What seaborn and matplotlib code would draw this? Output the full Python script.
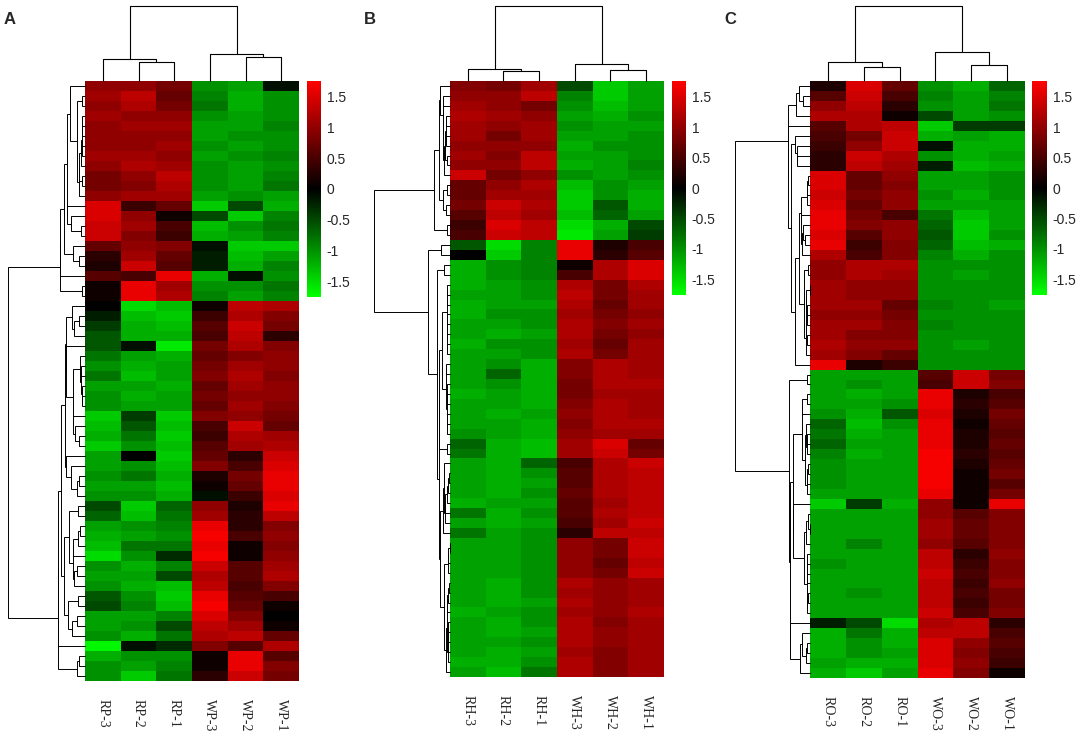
import numpy as np
import pandas as pd
import matplotlib
matplotlib.use('Agg')
import matplotlib.pyplot as plt
import seaborn as sns
from matplotlib.colors import LinearSegmentedColormap

# ---- panel A (rows top to bottom, as displayed) ----
rp3 = [1.0, 1.1, 1.0, 1.1, 1.0, 1.0, 1.0, 1.1, 1.0, 0.8,
       0.8, 1.0, 1.5, 1.5, 1.4, 1.4, 0.7, 0.3, 0.2, 0.6,
       0.1, 0.1, 0.0, -0.2, -0.4, -0.6, -0.6, -0.8, -1.0, -0.8,
       -1.1, -1.0, -1.0, -1.4, -1.3, -1.2, -1.4, -1.1, -1.1, -1.0,
       -1.1, -1.0, -0.5, -0.7, -1.1, -1.2, -1.3, -1.5, -1.0, -1.1,
       -1.0, -0.6, -0.5, -1.1, -1.1, -1.0, -1.7, -1.2, -1.0, -1.0]
rp2 = [1.0, 1.3, 1.2, 1.0, 1.1, 1.0, 1.0, 1.1, 1.2, 1.0,
       0.9, 1.1, 0.4, 1.0, 1.1, 0.9, 1.0, 1.1, 1.4, 0.5,
       1.6, 1.6, -1.5, -1.3, -1.2, -1.2, -0.1, -1.1, -1.2, -1.3,
       -1.1, -1.2, -1.1, -0.4, -0.6, -0.8, -1.0, 0.0, -1.0, -0.8,
       -1.1, -1.0, -1.4, -1.3, -1.0, -1.1, -0.8, -1.0, -1.2, -1.1,
       -1.2, -1.0, -0.9, -1.1, -1.0, -1.2, -0.1, -1.0, -1.1, -1.4]
rp1 = [0.8, 0.7, 0.8, 1.0, 1.1, 1.0, 1.1, 1.0, 1.1, 1.3,
       1.2, 1.1, 0.7, 0.1, 0.5, 0.4, 0.9, 0.7, 0.6, 1.6,
       1.1, 1.2, -1.3, -1.4, -1.3, -1.2, -1.6, -1.2, -1.1, -1.1,
       -1.2, -1.1, -1.1, -1.4, -1.3, -1.4, -1.3, -1.4, -1.3, -1.2,
       -1.3, -1.2, -0.7, -0.8, -0.9, -1.0, -0.8, -0.3, -0.9, -0.5,
       -1.3, -1.4, -1.3, -0.9, -0.5, -0.8, -0.3, -1.0, -0.9, -0.8]
wp3 = [-1.0, -0.9, -0.8, -1.0, -1.1, -1.1, -1.0, -1.1, -1.0, -1.0,
       -1.0, -1.1, -1.4, -0.5, -1.3, -1.2, -0.1, -0.2, -0.2, -1.2,
       -1.0, -0.9, 0.1, 0.4, 0.6, 0.5, 0.8, 0.7, 0.8, 0.9,
       0.7, 0.8, 0.7, 0.9, 0.5, 0.4, 0.6, 0.7, 0.9, 0.2,
       0.1, -0.1, 1.0, 1.1, 1.6, 1.7, 1.6, 1.7, 1.4, 1.2,
       1.3, 1.6, 1.7, 1.5, 1.3, 1.2, 0.9, 0.1, 0.1, 0.3]
wp2 = [-1.1, -1.2, -1.2, -1.1, -1.1, -1.0, -1.1, -1.0, -1.1, -1.1,
       -1.1, -1.0, -0.5, -1.4, -1.0, -1.1, -1.4, -1.3, -1.2, -0.1,
       -1.0, -1.1, 1.3, 1.2, 1.4, 1.3, 1.2, 0.9, 1.1, 1.2,
       1.1, 1.0, 1.1, 1.0, 1.4, 1.2, 1.1, 0.3, 0.5, 0.8,
       0.7, 0.4, 0.2, 0.3, 0.3, 0.5, 0.1, 0.1, 0.6, 0.6,
       0.5, 0.6, 0.7, 0.9, 1.1, 1.3, 0.6, 1.6, 1.6, 1.4]
wp1 = [-0.1, -1.0, -1.0, -1.0, -0.9, -1.0, -1.0, -0.9, -1.0, -0.9,
       -0.8, -1.1, -1.2, -0.9, -0.8, -0.9, -1.4, -1.1, -0.9, -1.0,
       -0.8, -0.9, 1.2, 0.9, 0.8, 0.3, 0.9, 1.0, 1.0, 0.9,
       1.0, 1.0, 0.9, 0.8, 0.7, 1.1, 1.2, 1.4, 1.5, 1.6,
       1.6, 1.5, 1.6, 1.3, 0.9, 1.0, 0.9, 1.0, 1.1, 1.2,
       0.9, 0.5, 0.1, 0.0, 0.1, 0.7, 1.2, 0.6, 0.9, 0.8]

# ---- panel B ----
rh3 = [0.9, 1.0, 1.1, 1.2, 1.1, 1.1, 1.0, 1.1, 1.0, 1.4,
       0.7, 0.7, 0.8, 0.6, 0.4, 0.5, -0.6, 0.0, -1.2, -1.2,
       -1.2, -1.1, -1.2, -1.2, -1.1, -1.1, -1.2, -1.1, -1.1, -1.1,
       -1.1, -1.2, -1.1, -1.1, -1.1, -1.0, -0.7, -0.8, -1.1, -1.1,
       -1.1, -1.1, -1.2, -0.8, -1.1, -0.8, -1.1, -1.1, -1.1, -1.1,
       -1.1, -1.1, -1.1, -1.2, -1.1, -1.1, -1.1, -1.1, -1.2, -1.1]
rh2 = [0.8, 1.0, 1.0, 1.1, 1.0, 0.8, 1.0, 0.9, 1.0, 0.8,
       1.0, 1.1, 1.4, 1.3, 1.5, 1.4, -1.5, -1.4, -1.0, -1.0,
       -1.1, -1.1, -1.1, -1.0, -1.1, -1.2, -1.0, -1.1, -1.0, -0.7,
       -1.0, -1.1, -1.1, -1.2, -1.1, -1.1, -1.2, -1.2, -1.2, -1.2,
       -1.2, -1.2, -1.1, -1.2, -1.2, -1.1, -1.1, -1.1, -1.1, -1.1,
       -1.2, -1.2, -1.2, -1.1, -1.2, -1.2, -1.1, -1.2, -1.2, -1.3]
rh1 = [1.1, 1.3, 0.8, 1.0, 1.1, 1.1, 1.0, 1.3, 1.3, 1.0,
       1.2, 1.1, 1.2, 1.1, 1.3, 1.3, -0.9, -0.9, -0.9, -0.9,
       -1.0, -1.0, -1.1, -1.0, -1.0, -1.1, -1.0, -1.0, -1.2, -1.2,
       -1.2, -1.2, -1.2, -1.1, -1.2, -1.2, -1.3, -1.3, -0.7, -1.0,
       -1.1, -1.0, -1.1, -1.0, -1.1, -1.0, -1.0, -1.0, -1.0, -1.0,
       -1.0, -1.0, -1.1, -1.0, -1.0, -1.1, -1.0, -1.1, -1.0, -0.8]
wh3 = [-0.5, -0.9, -1.0, -1.1, -1.0, -1.1, -1.2, -1.1, -1.2, -1.0,
       -1.3, -1.4, -1.4, -1.3, -1.5, -1.6, 1.6, 1.6, 0.1, 0.5,
       1.2, 1.3, 1.2, 1.1, 1.2, 1.2, 1.1, 1.2, 0.9, 0.9,
       0.8, 0.8, 0.9, 1.0, 0.9, 1.0, 1.1, 1.1, 0.5, 0.6,
       0.6, 0.7, 0.6, 0.6, 0.5, 0.3, 1.0, 1.0, 1.0, 1.0,
       1.2, 1.1, 1.2, 1.1, 1.2, 1.2, 1.2, 1.1, 1.2, 1.2]
wh2 = [-1.4, -1.4, -1.3, -1.2, -1.1, -1.1, -1.0, -1.1, -1.1, -1.1,
       -1.0, -1.0, -0.6, -0.7, -1.2, -1.1, 0.2, 0.3, 1.2, 1.2,
       0.8, 0.8, 0.7, 0.8, 0.9, 0.8, 0.7, 0.8, 1.2, 1.2,
       1.2, 1.1, 1.2, 1.2, 1.2, 1.1, 1.5, 1.4, 1.2, 1.2,
       1.2, 1.2, 1.1, 1.2, 1.1, 1.3, 0.8, 0.8, 0.7, 0.8,
       1.0, 1.0, 1.0, 1.0, 0.9, 1.0, 1.0, 0.9, 0.9, 0.9]
wh1 = [-1.1, -1.1, -1.1, -1.0, -1.1, -1.0, -1.0, -1.0, -0.9, -1.0,
       -1.1, -1.2, -1.2, -1.1, -0.5, -0.4, 0.5, 0.6, 1.5, 1.5,
       1.2, 1.1, 1.1, 1.0, 1.1, 1.0, 1.1, 1.1, 1.1, 1.1,
       1.2, 1.1, 1.1, 1.1, 1.2, 1.1, 0.7, 0.8, 1.4, 1.3,
       1.3, 1.3, 1.3, 1.3, 1.4, 1.3, 1.4, 1.4, 1.3, 1.4,
       1.1, 1.1, 1.1, 1.2, 1.1, 1.1, 1.1, 1.1, 1.1, 1.1]

# ---- panel C ----
ro3 = [0.2, 0.6, 1.0, 1.2, 0.6, 0.5, 0.4, 0.3, 0.3, 1.5,
       1.5, 1.4, 1.5, 1.6, 1.6, 1.5, 1.6, 1.2, 1.0, 1.0,
       1.1, 1.1, 1.1, 1.0, 1.1, 1.1, 1.2, 1.1, 1.6, -1.1,
       -1.1, -1.1, -1.1, -1.0, -0.7, -0.8, -0.7, -0.9, -1.0, -1.0,
       -1.0, -1.1, -1.4, -1.1, -1.1, -1.1, -1.1, -1.1, -1.0, -1.1,
       -1.1, -1.1, -1.1, -1.1, -0.2, -1.2, -1.2, -1.2, -1.1, -1.2]
ro2 = [1.5, 1.4, 1.3, 1.2, 1.2, 0.8, 1.0, 1.4, 1.3, 0.7,
       0.7, 0.8, 0.7, 0.8, 0.9, 0.6, 0.4, 0.5, 1.2, 1.2,
       1.0, 1.0, 1.1, 1.0, 1.1, 0.9, 1.0, 0.9, 0.2, -1.1,
       -1.0, -1.2, -1.1, -1.2, -1.3, -1.2, -1.1, -1.2, -1.1, -1.1,
       -1.1, -1.1, -0.4, -1.1, -1.1, -1.1, -0.9, -1.1, -1.1, -1.1,
       -1.1, -1.0, -1.1, -1.1, -0.5, -0.8, -1.0, -1.0, -1.2, -1.4]
ro1 = [0.7, 0.5, 0.3, 0.1, 1.3, 1.4, 1.4, 1.2, 1.1, 1.0,
       0.9, 1.0, 1.0, 0.5, 1.0, 1.0, 0.9, 0.9, 1.2, 1.1,
       1.0, 1.0, 0.7, 0.8, 0.9, 0.9, 1.0, 0.7, 0.4, -1.1,
       -1.1, -1.1, -1.0, -0.6, -1.0, -1.1, -1.1, -1.1, -1.1, -1.1,
       -1.1, -1.1, -1.2, -1.1, -1.1, -1.1, -1.1, -1.1, -1.1, -1.1,
       -1.1, -1.1, -1.1, -1.1, -1.5, -1.2, -1.2, -1.1, -1.2, -1.1]
wo3 = [-1.0, -0.9, -1.0, -0.5, -1.4, -1.2, -0.1, -1.0, -0.2, -1.1,
       -1.1, -1.0, -1.1, -0.8, -0.7, -0.6, -0.7, -0.9, -1.0, -1.0,
       -1.0, -1.0, -0.9, -1.0, -0.9, -1.0, -1.0, -1.0, -1.0, 0.6,
       0.5, 1.6, 1.6, 1.5, 1.6, 1.6, 1.6, 1.7, 1.7, 1.7,
       1.7, 1.6, 1.0, 1.0, 1.1, 1.1, 1.0, 1.3, 1.3, 1.4,
       1.3, 1.3, 1.3, 1.4, 1.2, 1.3, 1.5, 1.5, 1.5, 1.6]
wo2 = [-1.2, -1.1, -1.1, -1.1, -0.4, -1.1, -1.2, -1.2, -1.3, -1.1,
       -1.1, -1.2, -1.1, -1.3, -1.4, -1.4, -1.3, -1.2, -1.0, -1.1,
       -1.0, -1.0, -1.0, -1.0, -1.0, -1.0, -1.1, -1.0, -1.0, 1.4,
       1.4, 0.2, 0.3, 0.2, 0.1, 0.2, 0.2, 0.3, 0.2, 0.1,
       0.1, 0.1, 0.1, 0.6, 0.7, 0.7, 0.6, 0.3, 0.4, 0.5,
       0.4, 0.5, 0.4, 0.5, 1.3, 1.3, 1.0, 0.9, 1.0, 0.9]
wo1 = [-0.7, -0.9, -0.8, -1.0, -0.4, -1.2, -1.2, -1.1, -1.2, -1.0,
       -1.0, -1.0, -1.1, -1.1, -1.1, -1.0, -1.2, -1.0, -1.0, -1.0,
       -1.0, -1.0, -1.1, -1.0, -1.0, -1.0, -1.0, -1.0, -1.0, 0.8,
       0.9, 0.5, 0.6, 0.8, 0.7, 0.6, 0.7, 0.6, 0.7, 0.8,
       0.6, 0.8, 1.6, 0.9, 0.9, 0.9, 0.9, 1.0, 0.9, 0.9,
       1.0, 0.8, 0.8, 0.9, 0.3, 0.5, 0.6, 0.5, 0.4, 0.1]

labels_a = ['RP-3', 'RP-2', 'RP-1', 'WP-3', 'WP-2', 'WP-1']
labels_b = ['RH-3', 'RH-2', 'RH-1', 'WH-3', 'WH-2', 'WH-1']
labels_c = ['RO-3', 'RO-2', 'RO-1', 'WO-3', 'WO-2', 'WO-1']

# column dendrogram heights (px above the heatmap):
# [root, left group, left pair, right group, right pair]
col_heights_a = [75, 22, 19, 27, 24]
col_heights_b = [75, 12, 10, 17, 11]
col_heights_c = [75, 19, 14, 29, 16]

cbar_ticks = [1.5, 1, 0.5, 0, -0.5, -1, -1.5]
cbar_ticklabels = ['1.5', '1', '0.5', '0', '-0.5', '-1', '-1.5']

sns.set_style('white')
plt.rcParams['font.family'] = ['Liberation Sans', 'DejaVu Sans']

cmap = LinearSegmentedColormap.from_list('green_black_red', ['#00ff00', '#000000', '#ff0000'])
VMAX = 1.76

W, H = 1084, 737


def box(x0, y0, x1, y1):
    # pixel box -> figure fraction rect
    return [x0 / W, 1 - y1 / H, (x1 - x0) / W, (y1 - y0) / H]


def row_linkage(values):
    # average linkage, merging only neighbouring clusters so leaves keep the displayed order
    n = len(values)
    dist = np.sqrt(((values[:, None, :] - values[None, :, :]) ** 2).sum(-1))
    clusters = [dict(members=[i], pos=i + 0.5, h=0.0) for i in range(n)]
    segs = []
    while len(clusters) > 1:
        best, bi = None, 0
        for i in range(len(clusters) - 1):
            d = dist[np.ix_(clusters[i]['members'], clusters[i + 1]['members'])].mean()
            if best is None or d < best:
                best, bi = d, i
        a, b = clusters[bi], clusters[bi + 1]
        h = max(best, a['h'], b['h'])
        segs.append((a['pos'], a['h'], b['pos'], b['h'], h))
        clusters[bi:bi + 2] = [dict(members=a['members'] + b['members'],
                                    pos=(a['pos'] + b['pos']) / 2, h=h)]
    return segs, clusters[0]['h']


def draw_panel(fig, df, col_heights, letter, hm_box, dendro_x0, cbar_box, letter_x):
    x0, y0, x1, y1 = hm_box
    ax = fig.add_axes(box(x0, y0, x1, y1))
    cax = fig.add_axes(box(*cbar_box))
    sns.heatmap(df, ax=ax, cmap=cmap, vmin=-VMAX, vmax=VMAX, cbar_ax=cax,
                xticklabels=True, yticklabels=False, linewidths=0)
    ax.set_xticklabels(df.columns, rotation=270, fontsize=10,
                       fontfamily=['Liberation Serif', 'DejaVu Serif'], va='top')
    ax.tick_params(axis='x', length=0, pad=13)
    ax.set_xlabel('')
    ax.set_ylabel('')

    cbar = ax.collections[0].colorbar
    cbar.outline.set_visible(False)
    cbar.set_ticks(cbar_ticks)
    cbar.set_ticklabels(cbar_ticklabels)
    cax.tick_params(length=0, pad=4, labelsize=10)

    # row dendrogram
    rax = fig.add_axes(box(dendro_x0, y0, x0, y1))
    segs, root = row_linkage(df.values)
    for p1, h1, p2, h2, h in segs:
        rax.plot([h1, h, h, h2], [p1, p1, p2, p2], color='black', lw=0.7,
                 clip_on=False, solid_joinstyle='miter')
    rax.set_xlim(root, 0)
    rax.set_ylim(len(df), 0)
    rax.axis('off')

    # column dendrogram: ((c0, (c1, c2)), (c3, (c4, c5)))
    root_h, lg, lp, rg, rp = col_heights
    dax = fig.add_axes(box(x0, y0 - root_h, x1, y0))
    centers = np.arange(6) + 0.5

    def u(xa, ha, xb, hb, h):
        dax.plot([xa, xa, xb, xb], [ha, h, h, hb], color='black', lw=0.8,
                 clip_on=False)

    u(centers[1], 0, centers[2], 0, lp)
    lpos = (centers[1] + centers[2]) / 2
    u(centers[0], 0, lpos, lp, lg)
    lgpos = (centers[0] + lpos) / 2
    u(centers[4], 0, centers[5], 0, rp)
    rpos = (centers[4] + centers[5]) / 2
    u(centers[3], 0, rpos, rp, rg)
    rgpos = (centers[3] + rpos) / 2
    u(lgpos, lg, rgpos, rg, root_h)
    dax.set_xlim(0, 6)
    dax.set_ylim(0, root_h)
    dax.axis('off')

    fig.text(letter_x / W, 1 - 19.5 / H, letter, fontsize=12, fontweight='bold',
             va='center', ha='left')


fig = plt.figure(figsize=(10.84, 7.37), dpi=100)

df_a = pd.DataFrame({'RP-3': rp3, 'RP-2': rp2, 'RP-1': rp1,
                     'WP-3': wp3, 'WP-2': wp2, 'WP-1': wp1})[labels_a]
df_b = pd.DataFrame({'RH-3': rh3, 'RH-2': rh2, 'RH-1': rh1,
                     'WH-3': wh3, 'WH-2': wh2, 'WH-1': wh1})[labels_b]
df_c = pd.DataFrame({'RO-3': ro3, 'RO-2': ro2, 'RO-1': ro1,
                     'WO-3': wo3, 'WO-2': wo2, 'WO-1': wo1})[labels_c]

draw_panel(fig, df_a, col_heights_a, 'A', (85, 81, 299, 681), 8, (307, 81, 321, 297), 4)
draw_panel(fig, df_b, col_heights_b, 'B', (450, 81, 664, 677), 374, (672, 81, 686, 295), 364)
draw_panel(fig, df_c, col_heights_c, 'C', (810, 81, 1025, 678), 735, (1032, 81, 1047, 295), 724)

fig.savefig('out.png', dpi=100)
